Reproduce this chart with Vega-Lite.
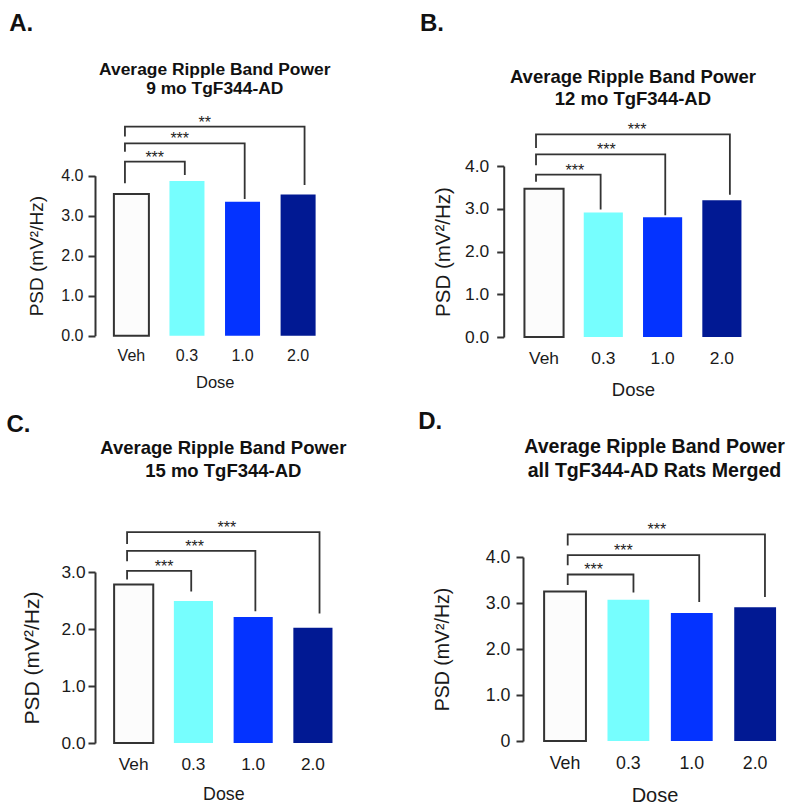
{
  "$schema": "https://vega.github.io/schema/vega-lite/v6.json",
  "background": "white",
  "padding": {"left": 6, "top": 11, "right": 0, "bottom": 0},
  "config": {
    "font": "Liberation Sans",
    "view": {"stroke": null},
    "axis": {"grid": false, "labelColor": "#1a1a1a", "titleColor": "#1a1a1a", "titleFontWeight": "normal", "domainColor": "#333333", "tickColor": "#333333", "labelOverlap": false},
    "title": {"color": "#111111"}
  },
  "datasets": {
    "bars": [
      {"panel": "A", "Dose": "Veh", "PSD": 3.54},
      {"panel": "A", "Dose": "0.3", "PSD": 3.87},
      {"panel": "A", "Dose": "1.0", "PSD": 3.35},
      {"panel": "A", "Dose": "2.0", "PSD": 3.53},
      {"panel": "B", "Dose": "Veh", "PSD": 3.47},
      {"panel": "B", "Dose": "0.3", "PSD": 2.91},
      {"panel": "B", "Dose": "1.0", "PSD": 2.80},
      {"panel": "B", "Dose": "2.0", "PSD": 3.20},
      {"panel": "C", "Dose": "Veh", "PSD": 2.78},
      {"panel": "C", "Dose": "0.3", "PSD": 2.49},
      {"panel": "C", "Dose": "1.0", "PSD": 2.21},
      {"panel": "C", "Dose": "2.0", "PSD": 2.02},
      {"panel": "D", "Dose": "Veh", "PSD": 3.25},
      {"panel": "D", "Dose": "0.3", "PSD": 3.07},
      {"panel": "D", "Dose": "1.0", "PSD": 2.78},
      {"panel": "D", "Dose": "2.0", "PSD": 2.91}
    ],
    "brackets": [
      {"panel": "A", "b": 1, "ord": 1, "Dose": "Veh", "PSD": 3.81},
      {"panel": "A", "b": 1, "ord": 2, "Dose": "Veh", "PSD": 4.35},
      {"panel": "A", "b": 1, "ord": 3, "Dose": "0.3", "PSD": 4.35},
      {"panel": "A", "b": 1, "ord": 4, "Dose": "0.3", "PSD": 4.02},
      {"panel": "A", "b": 2, "ord": 1, "Dose": "Veh", "PSD": 4.6},
      {"panel": "A", "b": 2, "ord": 2, "Dose": "Veh", "PSD": 4.81},
      {"panel": "A", "b": 2, "ord": 3, "Dose": "1.0", "PSD": 4.81},
      {"panel": "A", "b": 2, "ord": 4, "Dose": "1.0", "PSD": 3.42},
      {"panel": "A", "b": 3, "ord": 1, "Dose": "Veh", "PSD": 4.98},
      {"panel": "A", "b": 3, "ord": 2, "Dose": "Veh", "PSD": 5.225},
      {"panel": "A", "b": 3, "ord": 3, "Dose": "2.0", "PSD": 5.225},
      {"panel": "A", "b": 3, "ord": 4, "Dose": "2.0", "PSD": 3.77},
      {"panel": "B", "b": 1, "ord": 1, "Dose": "Veh", "PSD": 3.63},
      {"panel": "B", "b": 1, "ord": 2, "Dose": "Veh", "PSD": 3.80},
      {"panel": "B", "b": 1, "ord": 3, "Dose": "0.3", "PSD": 3.80},
      {"panel": "B", "b": 1, "ord": 4, "Dose": "0.3", "PSD": 2.98},
      {"panel": "B", "b": 2, "ord": 1, "Dose": "Veh", "PSD": 4.02},
      {"panel": "B", "b": 2, "ord": 2, "Dose": "Veh", "PSD": 4.27},
      {"panel": "B", "b": 2, "ord": 3, "Dose": "1.0", "PSD": 4.27},
      {"panel": "B", "b": 2, "ord": 4, "Dose": "1.0", "PSD": 2.85},
      {"panel": "B", "b": 3, "ord": 1, "Dose": "Veh", "PSD": 4.42},
      {"panel": "B", "b": 3, "ord": 2, "Dose": "Veh", "PSD": 4.74},
      {"panel": "B", "b": 3, "ord": 3, "Dose": "2.0", "PSD": 4.74},
      {"panel": "B", "b": 3, "ord": 4, "Dose": "2.0", "PSD": 3.33},
      {"panel": "C", "b": 1, "ord": 1, "Dose": "Veh", "PSD": 2.87},
      {"panel": "C", "b": 1, "ord": 2, "Dose": "Veh", "PSD": 3.02},
      {"panel": "C", "b": 1, "ord": 3, "Dose": "0.3", "PSD": 3.02},
      {"panel": "C", "b": 1, "ord": 4, "Dose": "0.3", "PSD": 2.66},
      {"panel": "C", "b": 2, "ord": 1, "Dose": "Veh", "PSD": 3.19},
      {"panel": "C", "b": 2, "ord": 2, "Dose": "Veh", "PSD": 3.37},
      {"panel": "C", "b": 2, "ord": 3, "Dose": "1.0", "PSD": 3.37},
      {"panel": "C", "b": 2, "ord": 4, "Dose": "1.0", "PSD": 2.31},
      {"panel": "C", "b": 3, "ord": 1, "Dose": "Veh", "PSD": 3.49},
      {"panel": "C", "b": 3, "ord": 2, "Dose": "Veh", "PSD": 3.70},
      {"panel": "C", "b": 3, "ord": 3, "Dose": "2.0", "PSD": 3.70},
      {"panel": "C", "b": 3, "ord": 4, "Dose": "2.0", "PSD": 2.27},
      {"panel": "D", "b": 1, "ord": 1, "Dose": "Veh", "PSD": 3.39},
      {"panel": "D", "b": 1, "ord": 2, "Dose": "Veh", "PSD": 3.62},
      {"panel": "D", "b": 1, "ord": 3, "Dose": "0.3", "PSD": 3.62},
      {"panel": "D", "b": 1, "ord": 4, "Dose": "0.3", "PSD": 3.23},
      {"panel": "D", "b": 2, "ord": 1, "Dose": "Veh", "PSD": 3.82},
      {"panel": "D", "b": 2, "ord": 2, "Dose": "Veh", "PSD": 4.04},
      {"panel": "D", "b": 2, "ord": 3, "Dose": "1.0", "PSD": 4.04},
      {"panel": "D", "b": 2, "ord": 4, "Dose": "1.0", "PSD": 3.02},
      {"panel": "D", "b": 3, "ord": 1, "Dose": "Veh", "PSD": 4.25},
      {"panel": "D", "b": 3, "ord": 2, "Dose": "Veh", "PSD": 4.49},
      {"panel": "D", "b": 3, "ord": 3, "Dose": "2.0", "PSD": 4.49},
      {"panel": "D", "b": 3, "ord": 4, "Dose": "2.0", "PSD": 3.13}
    ],
    "stars": [
      {"panel": "A", "pos": 0.42, "PSD": 4.35, "label": "***"},
      {"panel": "A", "pos": 0.87, "PSD": 4.81, "label": "***"},
      {"panel": "A", "pos": 1.32, "PSD": 5.225, "label": "**"},
      {"panel": "B", "pos": 0.52, "PSD": 3.80, "label": "***"},
      {"panel": "B", "pos": 1.05, "PSD": 4.27, "label": "***"},
      {"panel": "B", "pos": 1.57, "PSD": 4.74, "label": "***"},
      {"panel": "C", "pos": 0.51, "PSD": 3.02, "label": "***"},
      {"panel": "C", "pos": 1.02, "PSD": 3.37, "label": "***"},
      {"panel": "C", "pos": 1.56, "PSD": 3.70, "label": "***"},
      {"panel": "D", "pos": 0.45, "PSD": 3.62, "label": "***"},
      {"panel": "D", "pos": 0.92, "PSD": 4.04, "label": "***"},
      {"panel": "D", "pos": 1.45, "PSD": 4.49, "label": "***"}
    ]
  },
  "spacing": 11,
  "vconcat": [
    {
      "spacing": 84.7,
      "hconcat": [
        {
          "title": {"text": "A.", "anchor": "start", "fontSize": 24, "fontWeight": "bold", "offset": 25, "dx": -18},
          "vconcat": [
            {
              "width": 239.5,
              "height": 169.7,
              "title": {"text": ["Average Ripple Band Power", "9 mo TgF344-AD"], "fontSize": 17.4, "fontWeight": "bold", "lineHeight": 19, "offset": 17},
              "resolve": {"scale": {"x": "independent"}},
              "layer": [
                {
                  "data": {"name": "bars"},
                  "transform": [{"filter": "datum.panel === 'A'"}],
                  "mark": {"type": "bar", "strokeWidth": 2},
                  "encoding": {
                    "x": {"field": "Dose", "type": "nominal", "sort": ["Veh", "0.3", "1.0", "2.0"], "scale": {"paddingInner": 0.37, "paddingOuter": 0.34},
                      "axis": {"title": "Dose", "labelAngle": 0, "domain": false, "ticks": false, "tickSize": 0, "labelPadding": 12, "labelFontSize": 16, "titleFontSize": 16.5, "titlePadding": 11}},
                    "y": {"field": "PSD", "type": "quantitative", "scale": {"domain": [0, 4], "nice": false, "range": [169.7, 9.7]},
                      "axis": {"values": [0, 1, 2, 3, 4], "format": ".1f", "title": "PSD (mV²/Hz)", "domainWidth": 2, "tickWidth": 2, "tickSize": 7, "labelFontSize": 16, "labelPadding": 5, "titleFontSize": 19, "titlePadding": 14.5}},
                    "color": {"field": "Dose", "type": "nominal", "scale": {"domain": ["Veh", "0.3", "1.0", "2.0"], "range": ["#fcfcfc", "#76fefe", "#0433ff", "#011993"]}, "legend": null},
                    "stroke": {"condition": {"test": "datum.Dose === 'Veh'", "value": "#333333"}, "value": null}
                  }
                },
                {
                  "data": {"name": "brackets"},
                  "transform": [{"filter": "datum.panel === 'A'"}],
                  "mark": {"type": "line", "color": "#333333", "strokeWidth": 1.8},
                  "encoding": {
                    "x": {"field": "Dose", "type": "nominal", "sort": ["Veh", "0.3", "1.0", "2.0"], "scale": {"paddingInner": 0.37, "paddingOuter": 0.34}, "axis": null},
                    "y": {"field": "PSD", "type": "quantitative"},
                    "detail": {"field": "b", "type": "nominal"},
                    "order": {"field": "ord", "type": "quantitative"}
                  }
                },
                {
                  "data": {"name": "stars"},
                  "transform": [{"filter": "datum.panel === 'A'"}],
                  "mark": {"type": "text", "fontSize": 16, "baseline": "alphabetic", "dy": 1, "color": "#222222"},
                  "encoding": {
                    "x": {"field": "pos", "type": "quantitative", "scale": {"domain": [-0.655, 3.655], "nice": false, "zero": false}, "axis": null},
                    "y": {"field": "PSD", "type": "quantitative"},
                    "text": {"field": "label"}
                  }
                }
              ]
            }
          ]
        },
        {
          "title": {"text": "B.", "anchor": "start", "fontSize": 24, "fontWeight": "bold", "offset": 32.3, "dx": -13.6},
          "vconcat": [
            {
              "width": 258.5,
              "height": 171,
              "title": {"text": ["Average Ripple Band Power", "12 mo TgF344-AD"], "fontSize": 18.5, "fontWeight": "bold", "lineHeight": 22, "offset": 14},
              "resolve": {"scale": {"x": "independent"}},
              "layer": [
                {
                  "data": {"name": "bars"},
                  "transform": [{"filter": "datum.panel === 'B'"}],
                  "mark": {"type": "bar", "strokeWidth": 2},
                  "encoding": {
                    "x": {"field": "Dose", "type": "nominal", "sort": ["Veh", "0.3", "1.0", "2.0"], "scale": {"paddingInner": 0.34, "paddingOuter": 0.35},
                      "axis": {"title": "Dose", "labelAngle": 0, "domain": false, "ticks": false, "tickSize": 0, "labelPadding": 12, "labelFontSize": 17.4, "titleFontSize": 18.5, "titlePadding": 13.7}},
                    "y": {"field": "PSD", "type": "quantitative", "scale": {"domain": [0, 4], "nice": false},
                      "axis": {"values": [0, 1, 2, 3, 4], "format": ".1f", "title": "PSD (mV²/Hz)", "domainWidth": 2, "tickWidth": 2, "tickSize": 7, "labelFontSize": 17.4, "labelPadding": 8, "titleFontSize": 20.5, "titlePadding": 11}},
                    "color": {"field": "Dose", "type": "nominal", "scale": {"domain": ["Veh", "0.3", "1.0", "2.0"], "range": ["#fcfcfc", "#76fefe", "#0433ff", "#011993"]}, "legend": null},
                    "stroke": {"condition": {"test": "datum.Dose === 'Veh'", "value": "#333333"}, "value": null}
                  }
                },
                {
                  "data": {"name": "brackets"},
                  "transform": [{"filter": "datum.panel === 'B'"}],
                  "mark": {"type": "line", "color": "#333333", "strokeWidth": 1.8},
                  "encoding": {
                    "x": {"field": "Dose", "type": "nominal", "sort": ["Veh", "0.3", "1.0", "2.0"], "scale": {"paddingInner": 0.34, "paddingOuter": 0.35}, "axis": null},
                    "y": {"field": "PSD", "type": "quantitative"},
                    "detail": {"field": "b", "type": "nominal"},
                    "order": {"field": "ord", "type": "quantitative"}
                  }
                },
                {
                  "data": {"name": "stars"},
                  "transform": [{"filter": "datum.panel === 'B'"}],
                  "mark": {"type": "text", "fontSize": 16, "baseline": "alphabetic", "dy": 1, "color": "#222222"},
                  "encoding": {
                    "x": {"field": "pos", "type": "quantitative", "scale": {"domain": [-0.68, 3.68], "nice": false, "zero": false}, "axis": null},
                    "y": {"field": "PSD", "type": "quantitative"},
                    "text": {"field": "label"}
                  }
                }
              ]
            }
          ]
        }
      ]
    },
    {
      "spacing": 66,
      "hconcat": [
        {
          "title": {"text": "C.", "anchor": "start", "fontSize": 24, "fontWeight": "bold", "offset": 2.3, "dx": -15.3},
          "vconcat": [
            {
              "width": 256.6,
              "height": 186,
              "title": {"text": ["Average Ripple Band Power", "15 mo TgF344-AD"], "fontSize": 18.5, "fontWeight": "bold", "lineHeight": 22.5, "offset": 40},
              "resolve": {"scale": {"x": "independent"}},
              "layer": [
                {
                  "data": {"name": "bars"},
                  "transform": [{"filter": "datum.panel === 'C'"}],
                  "mark": {"type": "bar", "strokeWidth": 2},
                  "encoding": {
                    "x": {"field": "Dose", "type": "nominal", "sort": ["Veh", "0.3", "1.0", "2.0"], "scale": {"paddingInner": 0.345, "paddingOuter": 0.32},
                      "axis": {"title": "Dose", "labelAngle": 0, "domain": false, "ticks": false, "tickSize": 0, "labelPadding": 12, "labelFontSize": 17.3, "titleFontSize": 17.8, "titlePadding": 13.6}},
                    "y": {"field": "PSD", "type": "quantitative", "scale": {"domain": [0, 3], "nice": false, "range": [186, 15]},
                      "axis": {"values": [0, 1, 2, 3], "format": ".1f", "title": "PSD (mV²/Hz)", "domainWidth": 2, "tickWidth": 2, "tickSize": 7, "labelFontSize": 17.3, "labelPadding": 3, "titleFontSize": 21, "titlePadding": 18.2}},
                    "color": {"field": "Dose", "type": "nominal", "scale": {"domain": ["Veh", "0.3", "1.0", "2.0"], "range": ["#fcfcfc", "#76fefe", "#0433ff", "#011993"]}, "legend": null},
                    "stroke": {"condition": {"test": "datum.Dose === 'Veh'", "value": "#333333"}, "value": null}
                  }
                },
                {
                  "data": {"name": "brackets"},
                  "transform": [{"filter": "datum.panel === 'C'"}],
                  "mark": {"type": "line", "color": "#333333", "strokeWidth": 1.8},
                  "encoding": {
                    "x": {"field": "Dose", "type": "nominal", "sort": ["Veh", "0.3", "1.0", "2.0"], "scale": {"paddingInner": 0.345, "paddingOuter": 0.32}, "axis": null},
                    "y": {"field": "PSD", "type": "quantitative"},
                    "detail": {"field": "b", "type": "nominal"},
                    "order": {"field": "ord", "type": "quantitative"}
                  }
                },
                {
                  "data": {"name": "stars"},
                  "transform": [{"filter": "datum.panel === 'C'"}],
                  "mark": {"type": "text", "fontSize": 16, "baseline": "alphabetic", "dy": 1, "color": "#222222"},
                  "encoding": {
                    "x": {"field": "pos", "type": "quantitative", "scale": {"domain": [-0.6475, 3.6475], "nice": false, "zero": false}, "axis": null},
                    "y": {"field": "PSD", "type": "quantitative"},
                    "text": {"field": "label"}
                  }
                }
              ]
            }
          ]
        },
        {
          "title": {"text": "D.", "anchor": "start", "fontSize": 24, "fontWeight": "bold", "offset": 2.7, "dx": -14.7},
          "vconcat": [
            {
              "width": 263,
              "height": 184,
              "title": {"text": ["Average Ripple Band Power", "all TgF344-AD Rats Merged"], "fontSize": 19.6, "fontWeight": "bold", "lineHeight": 24, "offset": 41},
              "resolve": {"scale": {"x": "independent"}},
              "layer": [
                {
                  "data": {"name": "bars"},
                  "transform": [{"filter": "datum.panel === 'D'"}],
                  "mark": {"type": "bar", "strokeWidth": 2},
                  "encoding": {
                    "x": {"field": "Dose", "type": "nominal", "sort": ["Veh", "0.3", "1.0", "2.0"], "scale": {"paddingInner": 0.34, "paddingOuter": 0.245, "align": 0.68},
                      "axis": {"title": "Dose", "labelAngle": 0, "domain": false, "ticks": false, "tickSize": 0, "labelPadding": 13.6, "labelFontSize": 17.8, "titleFontSize": 20, "titlePadding": 12.7}},
                    "y": {"field": "PSD", "type": "quantitative", "scale": {"domain": [0, 4], "nice": false},
                      "axis": {"values": [0, 1, 2, 3, 4], "labelExpr": "datum.value === 0 ? '0' : format(datum.value, '.1f')", "title": "PSD (mV²/Hz)", "domainWidth": 2, "tickWidth": 2, "tickSize": 7, "labelFontSize": 17.8, "labelPadding": 6, "titleFontSize": 19.5, "titlePadding": 32.3}},
                    "color": {"field": "Dose", "type": "nominal", "scale": {"domain": ["Veh", "0.3", "1.0", "2.0"], "range": ["#fcfcfc", "#76fefe", "#0433ff", "#011993"]}, "legend": null},
                    "stroke": {"condition": {"test": "datum.Dose === 'Veh'", "value": "#333333"}, "value": null}
                  }
                },
                {
                  "data": {"name": "brackets"},
                  "transform": [{"filter": "datum.panel === 'D'"}],
                  "mark": {"type": "line", "color": "#333333", "strokeWidth": 1.8},
                  "encoding": {
                    "x": {"field": "Dose", "type": "nominal", "sort": ["Veh", "0.3", "1.0", "2.0"], "scale": {"paddingInner": 0.34, "paddingOuter": 0.245, "align": 0.68}, "axis": null},
                    "y": {"field": "PSD", "type": "quantitative"},
                    "detail": {"field": "b", "type": "nominal"},
                    "order": {"field": "ord", "type": "quantitative"}
                  }
                },
                {
                  "data": {"name": "stars"},
                  "transform": [{"filter": "datum.panel === 'D'"}],
                  "mark": {"type": "text", "fontSize": 16, "baseline": "alphabetic", "dy": 1, "color": "#222222"},
                  "encoding": {
                    "x": {"field": "pos", "type": "quantitative", "scale": {"domain": [-0.663, 3.487], "nice": false, "zero": false}, "axis": null},
                    "y": {"field": "PSD", "type": "quantitative"},
                    "text": {"field": "label"}
                  }
                }
              ]
            }
          ]
        }
      ]
    }
  ]
}
